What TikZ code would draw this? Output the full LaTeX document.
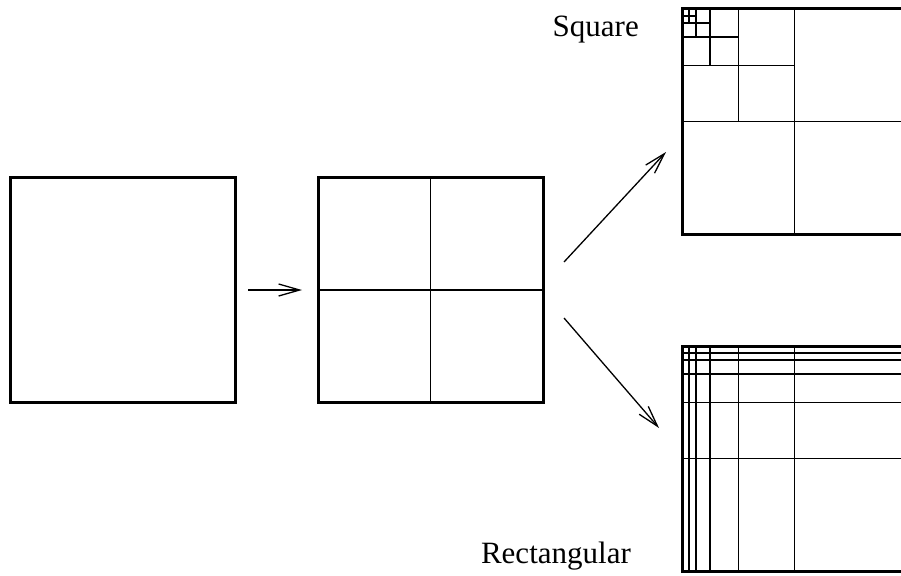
\documentclass[tikz,border=0pt]{standalone}
\usepackage{fontspec}
\setmainfont{Liberation Serif}
\usetikzlibrary{arrows.meta}
\begin{document}
\begin{tikzpicture}[x=1pt,y=-1pt,
  cell/.style={draw,line width=3pt,minimum width=225pt,minimum height=225pt,inner sep=0pt,outer sep=0pt},
  split/.style={line width=1.4pt},
  flow/.style={line width=1.3pt,-{Straight Barb[length=21pt,width=12pt,line width=1.3pt]}},
  caption/.style={font=\fontsize{31}{31}\selectfont,anchor=base east,inner sep=0pt}]
\useasboundingbox (0,0) rectangle (901,575);
\clip (0,0) rectangle (901,575);

% plain cell and its first split
\node[cell] (whole) at (122.5,290) {};
\node[cell] (quad) at (430.5,290) {};
\draw[split] (quad.north) -- (quad.south);
\draw[split] (quad.west) -- (quad.east);

% square refinement towards the top-left corner
\node[cell,anchor=north west] (sq) at (682,9) {};
\foreach \k in {1,...,5}{
  \pgfmathsetmacro{\outer}{225/2^(\k-1)}
  \pgfmathsetmacro{\inner}{225/2^\k}
  \draw[split] ([xshift=\inner pt]sq.north west) -- ++(0,\outer);
  \draw[split] ([yshift=-\inner pt]sq.north west) -- ++(\outer,0);
}
\node[cell,anchor=north west] (sq) at (682,9) {};

% rectangular refinement: full-length lines
\node[cell,anchor=north west] (rc) at (682,346) {};
\foreach \k in {1,...,5}{
  \pgfmathsetmacro{\inner}{225/2^\k}
  \draw[split] ([xshift=\inner pt]rc.north west) -- ([xshift=\inner pt]rc.south west);
  \draw[split] ([yshift=-\inner pt]rc.north west) -- ([yshift=-\inner pt]rc.north east);
}
\node[cell,anchor=north west] (rc) at (682,346) {};

% connectors
\coordinate (upstart) at (564,262);
\coordinate (upend) at (666,152);
\coordinate (downstart) at (564,318);
\coordinate (downend) at (659,428);
\draw[flow] ([xshift=13pt]whole.east) -- ([xshift=-16pt]quad.west);
\draw[flow] (upstart) -- (upend);
\draw[flow] (downstart) -- (downend);

% labels
\node[caption] (sqlabel) at (639,37) {Square};
\node[caption] (rclabel) at (631,563) {Rectangular};
\end{tikzpicture}
\end{document}
